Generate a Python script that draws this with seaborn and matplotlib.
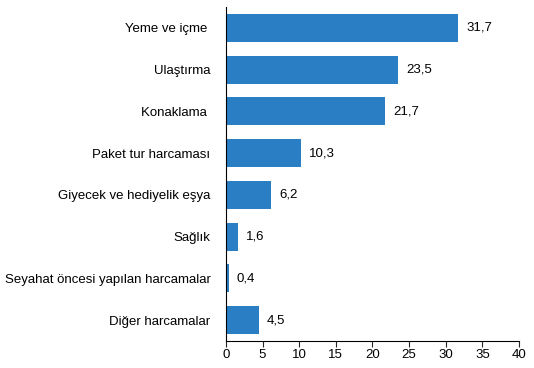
import matplotlib
matplotlib.use("Agg")
import matplotlib.pyplot as plt
import seaborn as sns
import pandas as pd

categories = ["Yeme ve içme ", "Ulaştırma", "Konaklama ", "Paket tur harcaması",
              "Giyecek ve hediyelik eşya", "Sağlık", "Seyahat öncesi yapılan harcamalar",
              "Diğer harcamalar"]
values = [31.7, 23.5, 21.7, 10.3, 6.2, 1.6, 0.4, 4.5]
xticks = [0, 5, 10, 15, 20, 25, 30, 35, 40]

df = pd.DataFrame({"kategori": categories, "deger": values})

sns.set_style("white")
plt.rcParams['font.family'] = ['Liberation Sans', 'DejaVu Sans']

fig = plt.figure(figsize=(5.34, 3.68), dpi=100)
ax = fig.add_axes([0.423, 0.073, 0.549, 0.908])

sns.barplot(data=df, x="deger", y="kategori", color="#2a7fc4", saturation=1,
            width=0.67, linewidth=0, ax=ax)

for i, v in enumerate(values):
    ax.text(v + 1.1, i, f"{v:.1f}".replace(".", ","), va="center", ha="left",
            fontsize=9.5, color="black")

ax.set_xlim(0, 40)
ax.set_ylim(7.5, -0.5)
ax.set_xticks(xticks)
ax.set_xticklabels([str(t) for t in xticks], fontsize=9.5)
ax.set_xlabel("")
ax.set_ylabel("")
ax.tick_params(axis="y", labelsize=9.5, labelcolor="black", length=0, pad=11)
ax.tick_params(axis="x", labelcolor="black", length=4, width=0.8, direction="out",
               bottom=True, pad=2)
for s in ["top", "right"]:
    ax.spines[s].set_visible(False)
for s in ["left", "bottom"]:
    ax.spines[s].set_color("black")
    ax.spines[s].set_linewidth(0.8)

plt.savefig("out.png", dpi=100)
